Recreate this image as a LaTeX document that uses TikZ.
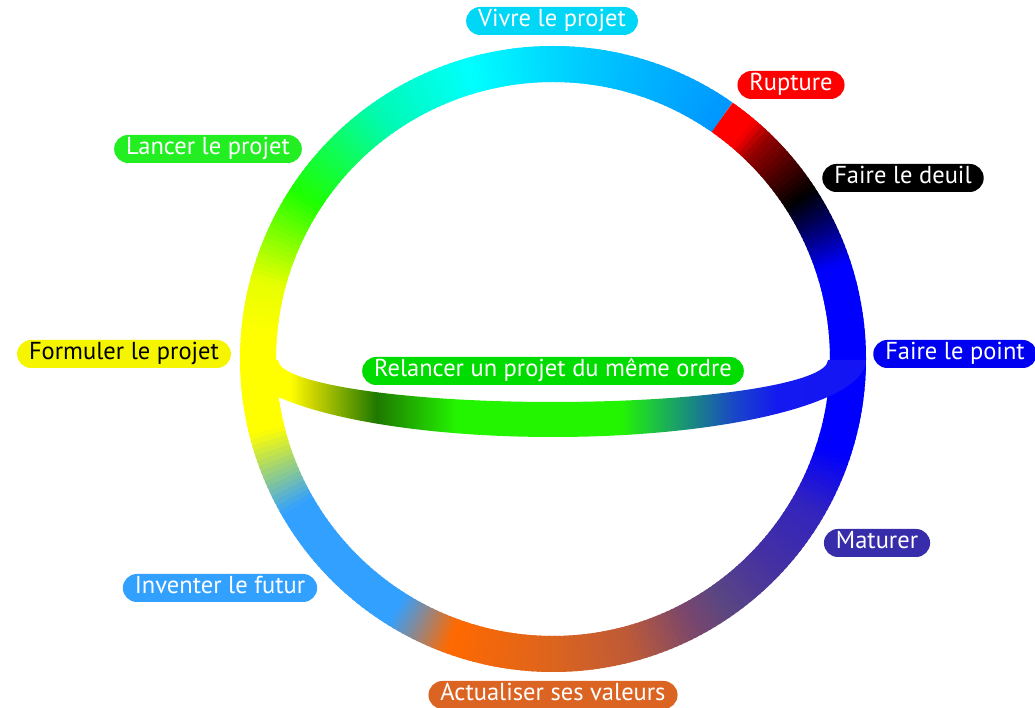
\documentclass[tikz,border=0pt]{standalone}
\usepackage{fontspec}
\setmainfont{PT Sans}
\usetikzlibrary{calc}

% ring colours
\definecolor{clb}{RGB}{0,150,255}
\definecolor{c75}{RGB}{0,185,255}
\definecolor{c90}{RGB}{0,215,255}
\definecolor{ccyan}{RGB}{0,255,255}
\definecolor{cmint}{RGB}{0,250,180}
\definecolor{cgreen}{RGB}{30,255,0}
\definecolor{cygreen}{RGB}{230,255,0}
\definecolor{cyellow}{RGB}{255,255,0}
\definecolor{cinv}{RGB}{50,160,255}
\definecolor{corange}{RGB}{255,105,0}
\definecolor{c270}{RGB}{220,100,30}
\definecolor{c285}{RGB}{190,90,55}
\definecolor{c298}{RGB}{120,70,110}
\definecolor{c305}{RGB}{90,70,130}
\definecolor{c316}{RGB}{70,50,160}
\definecolor{c330}{RGB}{50,35,190}
\definecolor{cblue}{RGB}{0,0,255}
\definecolor{cnavy}{RGB}{0,0,130}
\definecolor{cblack}{RGB}{0,0,0}
\definecolor{cdred}{RGB}{150,0,0}
\definecolor{cred}{RGB}{255,0,0}

% band colours
\definecolor{bdyel}{RGB}{255,255,0}
\definecolor{bdolive}{RGB}{210,215,0}
\definecolor{bddark}{RGB}{30,120,0}
\definecolor{bdgreen}{RGB}{35,245,0}
\definecolor{bdmid}{RGB}{30,200,60}
\definecolor{bdteal}{RGB}{25,140,125}
\definecolor{bdsteel}{RGB}{25,70,200}
\definecolor{bdblue}{RGB}{20,25,240}
\definecolor{bdend}{RGB}{20,20,245}

% label colours
\definecolor{lvivre}{RGB}{0,214,245}
\definecolor{lrupture}{RGB}{255,0,0}
\definecolor{llancer}{RGB}{34,238,34}
\definecolor{ldeuil}{RGB}{0,0,0}
\definecolor{lformuler}{RGB}{245,245,0}
\definecolor{lpoint}{RGB}{0,0,240}
\definecolor{lrelancer}{RGB}{0,220,0}
\definecolor{lmaturer}{RGB}{55,45,170}
\definecolor{linventer}{RGB}{50,160,255}
\definecolor{lactualiser}{RGB}{220,100,35}

\pgfdeclarehorizontalshading{bandshade}{100bp}{color(0bp)=(bdyel); color(29bp)=(bdyel); color(30.6bp)=(bdolive); color(35.9bp)=(bddark); color(42.3bp)=(bdgreen); color(55.4bp)=(bdgreen); color(57.8bp)=(bdmid); color(60.9bp)=(bdteal); color(64.5bp)=(bdsteel); color(67.9bp)=(bdblue); color(75bp)=(bdend); color(100bp)=(bdend)}

\def \ringrad {295}
\def \ringwidth {36pt}

\tikzset{
  ringseg/.style = {line width = \ringwidth},
  pill/.style = {rounded corners = 14pt, minimum height = 28pt, inner xsep = 12pt, inner ysep = 0pt, text height = 16pt, text depth = 5pt, text = white, font = \fontsize{24.5}{28}\selectfont}
}

\begin{document}
\begin{tikzpicture}[x = 1pt, y = 1pt]
\useasboundingbox (0, 0) rectangle (1035, 708);
\coordinate (ctr) at (553, 349);

% ring, one degree at a time
\foreach \a/\b/\ca/\cb in {55/75/clb/c75, 75/90/c75/c90, 90/106/c90/ccyan, 106/125/ccyan/cmint, 125/147/cmint/cgreen, 147/165/cgreen/cygreen, 165/175/cygreen/cyellow, 175/194/cyellow/cyellow, 194/210/cyellow/cinv, 210/238/cinv/cinv, 238/250/cinv/corange, 250/270/corange/c270, 270/285/c270/c285, 285/298/c285/c298, 298/305/c298/c305, 305/316/c305/c316, 316/330/c316/c330, 330/342/c330/cblue, 342/378/cblue/cblue, 378/385/cblue/cnavy, 385/393/cnavy/cblack, 393/406/cblack/cdred, 406/410/cdred/cred, 410/415/cred/cred}{
  \pgfmathtruncatemacro{\n}{\b-\a}
  \foreach \i in {1,...,\n}{
    \pgfmathsetmacro{\s}{\a+\i-1}
    \pgfmathsetmacro{\e}{min(\a+\i+0.6,415)}
    \pgfmathsetmacro{\p}{100*(\i-0.5)/\n}
    \draw[ringseg, draw = \cb!\p!\ca] (ctr) ++(\s:\ringrad) arc[start angle = \s, end angle = \e, radius = \ringrad];
  }
}

% band across the ring
\shade[shading = bandshade] (240, 348) arc[start angle = 180, end angle = 360, x radius = 313, y radius = 77] -- (828, 348) arc[start angle = 0, end angle = -180, x radius = 275, y radius = 42] -- cycle;

% labels
\node (vivre) [pill, fill = lvivre] at (552, 687) {Vivre le projet};
\node (rupture) [pill, fill = lrupture] at (791, 623) {Rupture};
\node (lancer) [pill, fill = llancer] at (208, 559) {Lancer le projet};
\node (deuil) [pill, fill = ldeuil] at (903, 530) {Faire le deuil};
\node (formuler) [pill, fill = lformuler, text = black] at (124, 354) {Formuler le projet};
\node (point) [pill, fill = lpoint] at (955, 354) {Faire le point};
\node (relancer) [pill, fill = lrelancer] at (553, 337) {Relancer un projet du même ordre};
\node (maturer) [pill, fill = lmaturer] at (877, 165) {Maturer};
\node (inventer) [pill, fill = linventer] at (220, 120) {Inventer le futur};
\node (actualiser) [pill, fill = lactualiser] at (553, 13) {Actualiser ses valeurs};

\end{tikzpicture}
\end{document}
